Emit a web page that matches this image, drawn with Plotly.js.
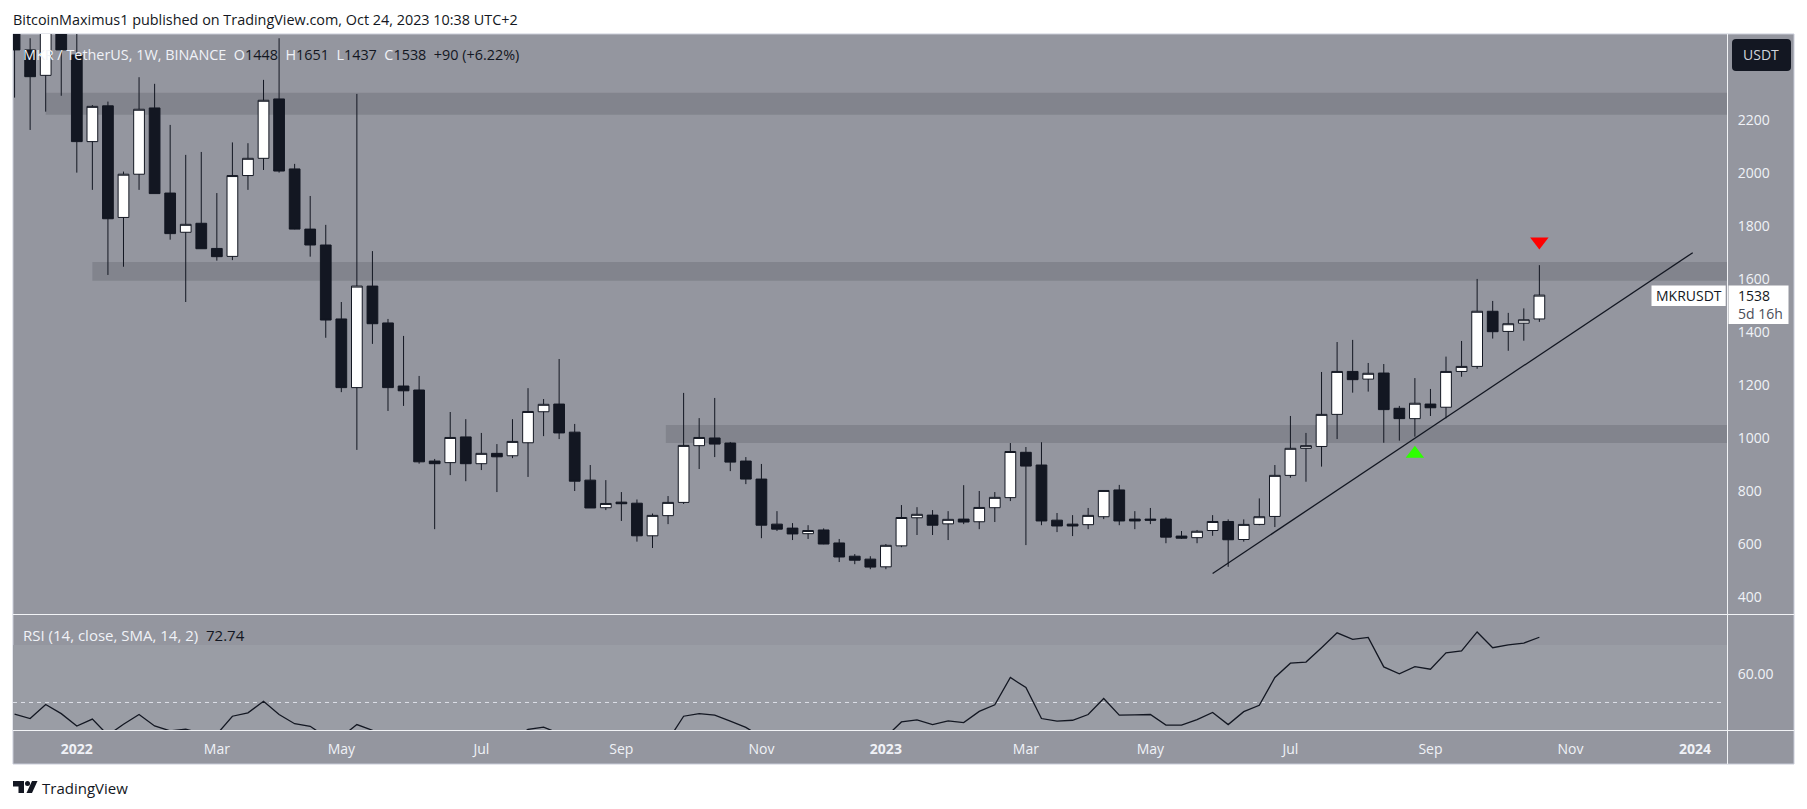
<!DOCTYPE html>
<html><head><meta charset="utf-8">
<script src="https://cdn.plot.ly/plotly-3.0.1.min.js"></script>
<style>html,body{margin:0;padding:0;background:#fff;overflow:hidden}#c{width:1807px;height:809px}</style>
</head><body><div id="c"></div>
<script>
const dates=["2021-12-06","2021-12-13","2021-12-20","2021-12-27","2022-01-03","2022-01-10","2022-01-17","2022-01-24","2022-01-31","2022-02-07","2022-02-14","2022-02-21","2022-02-28","2022-03-07","2022-03-14","2022-03-21","2022-03-28","2022-04-04","2022-04-11","2022-04-18","2022-04-25","2022-05-02","2022-05-09","2022-05-16","2022-05-23","2022-05-30","2022-06-06","2022-06-13","2022-06-20","2022-06-27","2022-07-04","2022-07-11","2022-07-18","2022-07-25","2022-08-01","2022-08-08","2022-08-15","2022-08-22","2022-08-29","2022-09-05","2022-09-12","2022-09-19","2022-09-26","2022-10-03","2022-10-10","2022-10-17","2022-10-24","2022-10-31","2022-11-07","2022-11-14","2022-11-21","2022-11-28","2022-12-05","2022-12-12","2022-12-19","2022-12-26","2023-01-02","2023-01-09","2023-01-16","2023-01-23","2023-01-30","2023-02-06","2023-02-13","2023-02-20","2023-02-27","2023-03-06","2023-03-13","2023-03-20","2023-03-27","2023-04-03","2023-04-10","2023-04-17","2023-04-24","2023-05-01","2023-05-08","2023-05-15","2023-05-22","2023-05-29","2023-06-05","2023-06-12","2023-06-19","2023-06-26","2023-07-03","2023-07-10","2023-07-17","2023-07-24","2023-07-31","2023-08-07","2023-08-14","2023-08-21","2023-08-28","2023-09-04","2023-09-11","2023-09-18","2023-09-25","2023-10-02","2023-10-09","2023-10-16","2023-10-23"];
const opens=[2700,2463,2367,2600,2444,2117,2252,1831,1994,2244,1923,1775,1809,1714,1684,1989,2054,2278,2014,1787,1727,1448,1189,1572,1433,1195,1180,912,906,1003,902,941,932,981,1098,1127,1021,840,736,757,753,630,706,756,970,999,980,912,844,674,659,638,652,603,553,542,513,592,698,708,675,693,683,736,774,945,897,689,674,672,702,803,693,693,693,629,623,650,684,616,673,703,858,960,967,1088,1250,1221,1244,1111,1072,1127,1115,1250,1269,1477,1401,1432,1448];
const highs=[2900,2507,2700,2700,2550,2255,2268,2004,2360,2335,2180,2067,2078,1923,2114,2111,2350,2507,2033,1912,1803,1512,2297,1704,1448,1384,1233,920,1097,1070,1018,976,1070,1187,1146,1297,1052,897,840,795,767,714,780,1169,1074,1150,984,927,901,723,678,670,658,618,561,553,599,746,738,727,723,821,799,795,980,965,983,716,708,735,802,822,723,735,699,648,652,708,692,692,771,897,1082,1018,1248,1361,1369,1282,1278,1120,1225,1184,1306,1365,1599,1516,1471,1488,1651];
const lows=[2283,2161,2230,2290,2000,1935,1614,1645,1935,1921,1747,1512,1713,1668,1670,1935,2010,2000,1786,1683,1377,1172,954,1354,1101,1120,902,655,859,836,878,795,923,852,1006,995,799,735,727,686,608,584,674,750,882,927,874,825,621,648,614,618,598,531,523,504,504,587,633,633,614,674,655,682,761,595,670,644,629,655,693,670,655,674,602,618,602,630,513,608,670,663,849,834,891,995,1170,1174,981,989,1004,1082,1073,1230,1260,1374,1328,1366,1437];
const closes=[2463,2362,2600,2463,2117,2250,1826,1994,2239,1921,1770,1805,1713,1683,1989,2054,2273,2006,1787,1727,1444,1189,1572,1430,1189,1177,909,902,1001,902,941,928,986,1099,1126,1018,836,735,752,751,630,707,756,971,1001,976,908,844,670,655,637,650,599,550,538,512,594,699,711,670,692,682,737,775,948,893,686,667,667,707,801,686,686,689,625,621,647,684,615,673,702,858,960,970,1088,1250,1219,1243,1106,1072,1130,1113,1250,1269,1477,1400,1430,1445,1538];
const rsi=[45.9,44.4,49.3,46.1,41.8,44.2,38.6,42.4,45.8,41.8,40.1,40.7,39.2,38.9,45.2,46.4,50.4,45.8,42.6,41.7,38,38,42.3,40.3,36,36,33,32.5,35,34,36,35,37,40.6,41.4,39.2,36,34,35,35,33,36,36.8,45.2,46.1,45.6,43.5,41.3,38,37,36.5,37,35,34,33.5,33,38,43.2,43.9,42.3,43.6,43,46.9,49.2,58.7,55.2,44.4,43.5,43.8,45.8,51.4,45.6,45.7,45.8,42.1,42.1,44.05,46.5,42.3,46.8,49,58.7,63.7,64.1,69.1,74.3,72,72.7,62.4,60,62.5,61.6,67.3,68,74.6,69.1,70.1,70.7,72.74];
const priceTicks=[400,600,800,1000,1200,1400,1600,1800,2000,2200];
const rsiTicks=[60];
const rsiTickText=["60.00"];
const timeTicks=["2022-01-03","2022-03-07","2022-05-02","2022-07-04","2022-09-05","2022-11-07","2023-01-02","2023-03-06","2023-05-01","2023-07-03","2023-09-04","2023-11-06","2024-01-01"];
const timeTickText=["<b>2022</b>","Mar","May","Jul","Sep","Nov","<b>2023</b>","Mar","May","Jul","Sep","Nov","<b>2024</b>"];
const bandStarts=["2021-12-20","2022-01-10","2022-09-25"];
const bandLows=[2218,1592,980];
const bandHighs=[2301,1663,1048];
const trendX=["2023-05-29","2023-12-31"];
const trendY=[488,1698];
const xStart="2021-12-05 07:00", xEnd="2024-01-15 10:00";
const DARK="#131722",BG="#94969f",BAND="#82848d",RSIBG="#9a9da5",SOFT="#f0f2f7",EDGE="#c9ccd8";
const L=13,R=1727,T=34,B=730;
const px=x=>(x-L)/(R-L), py=y=>(B-y)/(B-T);
const FONT='"Open Sans", sans-serif';
function rect(x0,y0,x1,y1,fill,layer,line){return {type:'rect',xref:'paper',yref:'paper',x0:px(x0),x1:px(x1),y0:py(y1),y1:py(y0),fillcolor:fill,line:line||{width:0},layer:layer||'below'};}
function seg(x0,y0,x1,y1,c){return {type:'line',xref:'paper',yref:'paper',x0:px(x0),x1:px(x1),y0:py(y0),y1:py(y1),line:{color:c,width:1},layer:'above'};}
function pathShape(d,fill){return {type:'path',xref:'paper',yref:'paper',path:d,fillcolor:fill,line:{width:0},layer:'above'};}
const P=(x,y)=>px(x)+','+py(y);
const roundBox=(x0,y0,x1,y1,r)=>`M${P(x0+r,y0)} L${P(x1-r,y0)} Q${P(x1,y0)} ${P(x1,y0+r)} L${P(x1,y1-r)} Q${P(x1,y1)} ${P(x1-r,y1)} L${P(x0+r,y1)} Q${P(x0,y1)} ${P(x0,y1-r)} L${P(x0,y0+r)} Q${P(x0,y0)} ${P(x0+r,y0)} Z`;
function ann(x,y,text,size,color,anchor){return {xref:'paper',yref:'paper',x:px(x),y:py(y),text,showarrow:false,xanchor:anchor||'left',yanchor:'middle',align:'left',borderpad:0,borderwidth:0,font:{family:FONT,size,color}};}
const w=t=>`<span style="color:${SOFT}">${t}</span>`, d=t=>`<span style="color:${DARK}">${t}</span>`;
const GAP='&nbsp;&nbsp;';
const traces=[
 {type:'candlestick',x:dates,open:opens,high:highs,low:lows,close:closes,xaxis:'x',yaxis:'y',hoverinfo:'skip',whiskerwidth:0,
  increasing:{fillcolor:'#ffffff',line:{color:DARK,width:1}},decreasing:{fillcolor:DARK,line:{color:DARK,width:1}}},
 {type:'scatter',mode:'lines',x:trendX,y:trendY,xaxis:'x',yaxis:'y',line:{color:DARK,width:1.3},hoverinfo:'skip'},
 {type:'scatter',mode:'markers',x:["2023-08-28"],y:[940],xaxis:'x',yaxis:'y',marker:{symbol:'triangle-up',size:16,color:'#2eff00',line:{width:0}},hoverinfo:'skip'},
 {type:'scatter',mode:'markers',x:["2023-10-23"],y:[1740],xaxis:'x',yaxis:'y',marker:{symbol:'triangle-down',size:16,color:'#ff0000',line:{width:0}},hoverinfo:'skip'},
 {type:'scatter',mode:'lines',x:dates,y:rsi,xaxis:'x',yaxis:'y2',line:{color:DARK,width:1.3},hoverinfo:'skip'}
];
const shapes=[
 rect(13,34,1794,764,BG,'below',{color:EDGE,width:1}),
 {type:'rect',xref:'paper',yref:'y2',x0:0,x1:1,y0:30,y1:70,fillcolor:RSIBG,line:{width:0},layer:'below'},
 {type:'line',xref:'paper',yref:'y2',x0:0,x1:0.9985,y0:50,y1:50,line:{color:'#dfe1e8',width:1,dash:'4px,4px'},layer:'below'},
 ...bandStarts.map((s,i)=>({type:'rect',xref:'x',yref:'y',x0:s,x1:xEnd,y0:bandLows[i],y1:bandHighs[i],fillcolor:BAND,line:{width:0},layer:'below'})),
 seg(13,614.5,1794,614.5,'#f2f3f6'),seg(13,730.5,1794,730.5,'#f2f3f6'),seg(1727.5,34,1727.5,764,'#f2f3f6'),
 pathShape(roundBox(1732,39,1791,71,4),DARK),
 rect(1651.5,285.5,1725.7,306,'#ffffff','above'),
 rect(1728.5,285.5,1788.5,324,'#ffffff','above'),
 pathShape(`M${P(13,781)} L${P(24,781)} L${P(24,793)} L${P(18.5,793)} L${P(18.5,786.5)} L${P(13,786.5)} Z`,DARK),
 pathShape(`M${P(32,781)} L${P(37.5,781)} L${P(32,793)} L${P(26.5,793)} Z`,DARK),
 pathShape(`M${P(25,783.5)} Q${P(25,781)} ${P(27.5,781)} Q${P(30,781)} ${P(30,783.5)} Q${P(30,786)} ${P(27.5,786)} Q${P(25,786)} ${P(25,783.5)} Z`,DARK)
];
const annotations=[
 ann(13,20,'BitcoinMaximus1 published on TradingView.com, Oct 24, 2023 10:38 UTC+2',14.4,DARK),
 ann(23,54,w('MKR / TetherUS, 1W, BINANCE')+GAP+w('O')+d('1448')+GAP+w('H')+d('1651')+GAP+w('L')+d('1437')+GAP+w('C')+d('1538')+GAP+d('+90 (+6.22%)'),14.4,DARK),
 ann(1761.5,55,'USDT',14,'#d1d4dc','center'),
 ann(1688.5,296,'MKRUSDT',14,DARK,'center'),
 ann(1737.5,296,'1538',14,DARK),
 ann(1737.5,314,'5d 16h',14,'#4a4e59'),
 ann(23,635,w('RSI (14, close, SMA, 14, 2)')+GAP+d('72.74'),15,DARK),
 ann(42,788,'TradingView',15,DARK)
];
const layout={
 width:1807,height:809,margin:{l:L,r:1807-R,t:T,b:809-B,pad:0},
 paper_bgcolor:'#ffffff',plot_bgcolor:'rgba(0,0,0,0)',showlegend:false,dragmode:false,hovermode:false,
 boxgap:0.31,boxgroupgap:0,
 font:{family:FONT,size:14,color:SOFT},
 xaxis:{type:'date',anchor:'y2',range:[xStart,xEnd],tickmode:'array',tickvals:timeTicks,ticktext:timeTickText,showgrid:false,zeroline:false,showline:false,ticks:'outside',ticklen:6,tickcolor:'rgba(0,0,0,0)',tickfont:{family:FONT,size:14,color:SOFT},rangeslider:{visible:false},fixedrange:true},
 yaxis:{domain:[(B-614)/(B-T),1],range:[335,2523],side:'right',anchor:'x',tickmode:'array',tickvals:priceTicks,ticktext:priceTicks.map(String),showgrid:false,zeroline:false,showline:false,ticks:'outside',ticklen:7,tickcolor:'rgba(0,0,0,0)',tickfont:{family:FONT,size:14,color:SOFT},fixedrange:true},
 yaxis2:{domain:[0,(B-615)/(B-T)],range:[40.4,80.5],side:'right',anchor:'x',tickmode:'array',tickvals:rsiTicks,ticktext:rsiTickText,showgrid:false,zeroline:false,showline:false,ticks:'outside',ticklen:7,tickcolor:'rgba(0,0,0,0)',tickfont:{family:FONT,size:14,color:SOFT},fixedrange:true},
 shapes,annotations
};
Plotly.newPlot('c',traces,layout,{displayModeBar:false,staticPlot:true});
</script></body></html>
